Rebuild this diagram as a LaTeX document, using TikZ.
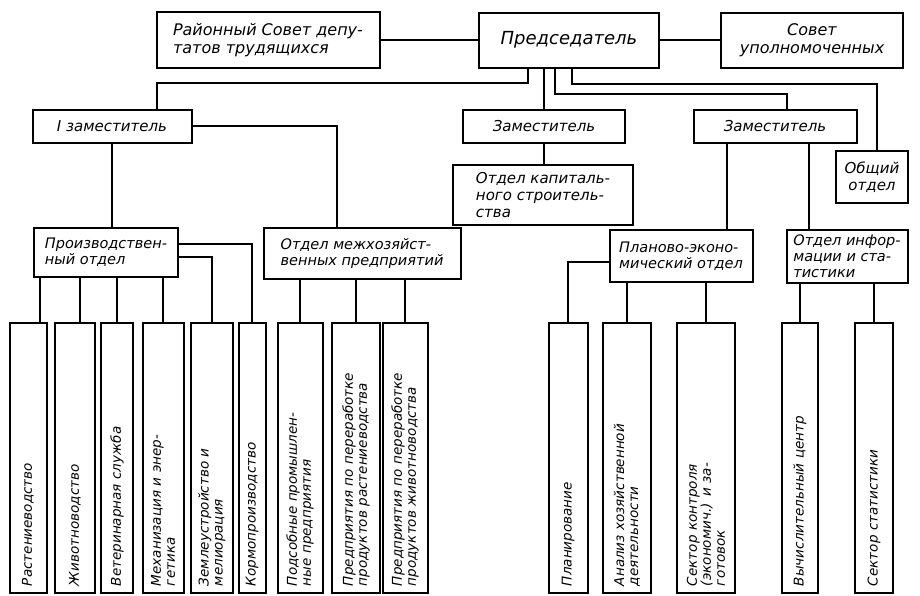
\documentclass[tikz,border=0pt]{standalone}
\usepackage{fontspec}
\setmainfont{DejaVu Sans}

\begin{document}
\begin{tikzpicture}[x=1pt,y=1pt,line width=2pt,
        box/.style={draw,inner sep=2pt,align=left,font=\itshape\fontsize{14.5}{16}\selectfont},
        bigbox/.style={box,font=\itshape\fontsize{16}{18}\selectfont},
        col/.style={draw,rotate=90,minimum width=270pt,text width=256pt,inner xsep=7pt,
            inner ysep=2pt,align=left,font=\itshape\fontsize{13.5}{14}\selectfont}]
        \useasboundingbox (0,0) rectangle (920,-595);
        % top row
        \node[bigbox,minimum width=223pt,minimum height=56pt] (rayon) at (268,-40) {Районный Совет депу-\\татов трудящихся};
        \node[bigbox,minimum width=180pt,minimum height=55pt,font=\itshape\fontsize{18}{20}\selectfont] (pred) at (569,-40) {Председатель};
        \node[bigbox,minimum width=182pt,minimum height=55pt,align=center] (sovet) at (812,-40) {Совет\\уполномоченных};
        % deputies
        \node[bigbox,minimum width=159pt,minimum height=33pt,font=\itshape\fontsize{15}{17}\selectfont] (zam1) at (112,-126) {I заместитель};
        \node[bigbox,minimum width=162pt,minimum height=33pt,font=\itshape\fontsize{15}{17}\selectfont] (zam2) at (544,-126) {Заместитель};
        \node[bigbox,minimum width=163pt,minimum height=33pt,font=\itshape\fontsize{15}{17}\selectfont] (zam3) at (775,-126) {Заместитель};
        \node[bigbox,minimum width=72pt,minimum height=52pt,align=center,font=\itshape\fontsize{15}{17}\selectfont] (obsh) at (872,-177) {Общий\\отдел};
        \node[bigbox,minimum width=180pt,minimum height=60pt,font=\itshape\fontsize{15}{17}\selectfont] (kap) at (543,-195) {Отдел капиталь-\\ного строитель-\\ства};
        % departments
        \node[box,minimum width=144pt,minimum height=49pt] (proizv) at (106,-252) {Производствен-\\ный отдел};
        \node[box,minimum width=197pt,minimum height=51pt] (mezh) at (362,-253) {Отдел межхозяйст-\\венных предприятий};
        \node[box,minimum width=143pt,minimum height=52pt] (plan) at (681,-256) {Планово-эконо-\\мический отдел};
        \node[box,minimum width=121pt,minimum height=53pt] (info) at (847,-256) {Отдел инфор-\\мации и ста-\\тистики};
        % sectors
        \node[col,minimum height=37pt] (rast) at (28,-458) {Растениеводство};
        \node[col,minimum height=40pt] (zhiv) at (75,-458) {Животноводство};
        \node[col,minimum height=32pt] (vet) at (117,-458) {Ветеринарная служба};
        \node[col,minimum height=41pt] (mekh) at (163,-458) {Механизация и энер-\\гетика};
        \node[col,minimum height=42pt] (zeml) at (212,-458) {Землеустройство и\\мелиорация};
        \node[col,minimum height=27pt] (korm) at (252,-458) {Кормопроизводство};
        \node[col,minimum height=45pt] (pods) at (300,-458) {Подсобные промышлен-\\ные предприятия};
        \node[col,minimum height=48pt] (prast) at (356,-458) {Предприятия по переработке\\продуктов растениеводства};
        \node[col,minimum height=45pt] (pzhiv) at (405,-458) {Предприятия по переработке\\продуктов животноводства};
        \node[col,minimum height=39pt] (plnr) at (568,-458) {Планирование};
        \node[col,minimum height=48pt] (anal) at (627,-458) {Анализ хозяйственной\\деятельности};
        \node[col,minimum height=58pt] (sekt) at (706,-458) {Сектор контроля\\(экономич.) и за-\\готовок};
        \node[col,minimum height=36pt] (vych) at (800,-458) {Вычислительный центр};
        \node[col,minimum height=38pt] (stat) at (874,-458) {Сектор статистики};
        % links
        \draw (rayon.east) -- (pred.west);
        \draw (pred.east) -- (sovet.west);
        \draw ([xshift=-41pt]pred.south) -- ++(0,-14) -| ([xshift=45pt]zam1.north);
        \draw (pred.south -| zam2.north) -- (zam2.north);
        \draw ([xshift=-14pt]pred.south) -- ++(0,-25) -| ([xshift=12pt]zam3.north);
        \draw ([xshift=3pt]pred.south) -- ++(0,-15) -| ([xshift=5pt]obsh.north);
        \draw (zam1.south) -- (zam1.south |- proizv.north);
        \draw (zam1.east) -| ([xshift=-25pt]mezh.north);
        \draw (zam2.south) -- (zam2.south |- kap.north);
        \draw ([xshift=-48pt]zam3.south) -- ([xshift=46pt]plan.north);
        \draw ([xshift=34pt]zam3.south) -- ([xshift=-38pt]info.north);
        \draw ([xshift=12pt]rast.east) -- ([xshift=12pt]rast.east |- proizv.south);
        \draw ([xshift=5pt]zhiv.east) -- ([xshift=5pt]zhiv.east |- proizv.south);
        \draw (vet.east) -- (vet.east |- proizv.south);
        \draw (mekh.east) -- (mekh.east |- proizv.south);
        \draw ([yshift=-5pt]proizv.east) -| (zeml.east);
        \draw ([yshift=8pt]proizv.east) -| (korm.east);
        \draw (pods.east) -- (pods.east |- mezh.south);
        \draw (prast.east) -- (prast.east |- mezh.south);
        \draw (pzhiv.east) -- (pzhiv.east |- mezh.south);
        \draw ([yshift=-6pt]plan.west) -| (plnr.east);
        \draw (anal.east) -- (anal.east |- plan.south);
        \draw (sekt.east) -- (sekt.east |- plan.south);
        \draw (vych.east) -- (vych.east |- info.south);
        \draw (stat.east) -- (stat.east |- info.south);
    \end{tikzpicture}
\end{document}
